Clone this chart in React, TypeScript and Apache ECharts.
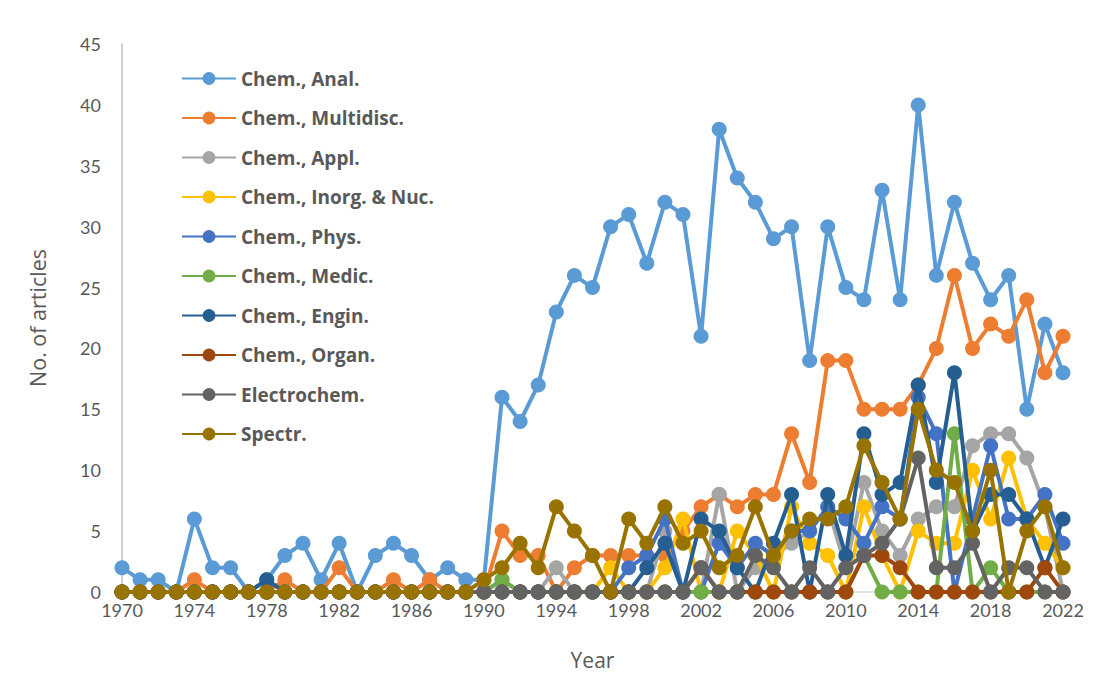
import React, { useEffect, useRef } from "react";
import * as echarts from "echarts";

const years: string[] = [];
for (let y = 1970; y <= 2022; y++) years.push(String(y));

const seriesNames = [
  "Chem., Anal.",
  "Chem., Multidisc.",
  "Chem., Appl.",
  "Chem., Inorg. & Nuc.",
  "Chem., Phys.",
  "Chem., Medic.",
  "Chem., Engin.",
  "Chem., Organ.",
  "Electrochem.",
  "Spectr.",
];

const colors = [
  "#5B9BD5",
  "#ED7D31",
  "#A5A5A5",
  "#FFC000",
  "#4472C4",
  "#70AD47",
  "#255E91",
  "#9E480E",
  "#636363",
  "#997300",
];

const z10 = [0, 0, 0, 0, 0, 0, 0, 0, 0, 0];

const anal = [
  2, 1, 1, 0, 6, 2, 2, 0, 1, 3,
  4, 1, 4, 0, 3, 4, 3, 1, 2, 1,
  1, 16, 14, 17, 23, 26, 25, 30, 31, 27,
  32, 31, 21, 38, 34, 32, 29, 30, 19, 30,
  25, 24, 33, 24, 40, 26, 32, 27, 24, 26,
  15, 22, 18,
];
const multidisc = [
  0, 0, 0, 0, 1, 0, 0, 0, 0, 1,
  0, 0, 2, 0, 0, 1, 0, 1, 0, 0,
  0, 5, 3, 3, 0, 2, 3, 3, 3, 3,
  3, 5, 7, 8, 7, 8, 8, 13, 9, 19,
  19, 15, 15, 15, 17, 20, 26, 20, 22, 21,
  24, 18, 21,
];
const appl = [
  ...z10, ...z10,
  0, 1, 0, 0, 2, 0, 0, 0, 0, 0,
  5, 0, 0, 8, 0, 2, 3, 4, 5, 7,
  2, 9, 5, 3, 6, 7, 7, 12, 13, 13,
  11, 7, 0,
];
const inorg = [
  ...z10, ...z10,
  0, 0, 0, 0, 0, 0, 0, 2, 0, 0,
  2, 6, 0, 0, 5, 3, 0, 7, 4, 3,
  0, 7, 3, 0, 5, 4, 4, 10, 6, 11,
  6, 4, 2,
];
const phys = [
  ...z10, ...z10,
  0, 0, 0, 0, 0, 0, 0, 0, 2, 3,
  6, 0, 0, 4, 2, 4, 3, 5, 5, 7,
  6, 4, 7, 6, 16, 13, 0, 6, 12, 6,
  6, 8, 4,
];
const medic = [
  ...z10, ...z10,
  0, 1, 0, 0, 0, 0, 0, 0, 0, 0,
  0, 0, 0, 0, 0, 0, 0, 0, 0, 0,
  0, 3, 0, 0, 0, 0, 13, 0, 2, 0,
  0, 0, 0,
];
const engin = [
  0, 0, 0, 0, 0, 0, 0, 0, 1, 0,
  ...z10,
  0, 0, 0, 0, 0, 0, 0, 0, 0, 2,
  4, 0, 6, 5, 2, 0, 4, 8, 0, 8,
  3, 13, 8, 9, 17, 9, 18, 5, 8, 8,
  6, 2, 6,
];
const organ = [
  ...z10, ...z10, ...z10,
  0, 0, 2, 0, 0, 0, 0, 0, 0, 0,
  0, 3, 3, 2, 0, 0, 0, 0, 0, 0,
  0, 2, 0,
];
const electrochem = [
  ...z10, ...z10, ...z10,
  0, 0, 2, 0, 0, 3, 2, 0, 2, 0,
  2, 3, 4, 6, 11, 2, 2, 4, 0, 2,
  2, 0, 0,
];
const spectr = [
  ...z10, ...z10,
  1, 2, 4, 2, 7, 5, 3, 0, 6, 4,
  7, 4, 5, 2, 3, 7, 3, 5, 6, 6,
  7, 12, 9, 6, 15, 10, 9, 5, 10, 0,
  5, 7, 2,
];

const allData = [anal, multidisc, appl, inorg, phys, medic, engin, organ, electrochem, spectr];

const FONT = "Lato, 'Open Sans', sans-serif";
const FONT2 = "'Open Sans', sans-serif";

export default function App() {
  const ref = useRef<HTMLDivElement>(null);
  useEffect(() => {
    if (!ref.current) return;
    const chart = echarts.init(ref.current, undefined, { renderer: "svg" });
    chart.setOption({
      animation: false,
      backgroundColor: "#ffffff",
      grid: { left: 122, right: 51, top: 44, bottom: 92, containLabel: false },
      legend: {
        orient: "vertical",
        left: 176,
        top: 64,
        itemWidth: 54,
        itemHeight: 16,
        itemGap: 20.5,
        textStyle: {
          fontFamily: FONT2,
          fontSize: 19,
          lineHeight: 18,
          fontWeight: "bold",
          color: "#595959",
        },
        data: seriesNames,
      },
      xAxis: {
        type: "category",
        data: years,
        boundaryGap: false,
        name: "Year",
        nameLocation: "middle",
        nameGap: 57,
        nameTextStyle: { fontFamily: FONT2, fontSize: 21, color: "#595959" },
        axisLine: { show: true, lineStyle: { color: "#D9D9D9", width: 1.5 } },
        axisTick: { show: false },
        axisLabel: { interval: 3, margin: 9, fontFamily: FONT, fontSize: 18, color: "#595959" },
        splitLine: { show: false },
      },
      yAxis: {
        type: "value",
        min: 0,
        max: 45,
        interval: 5,
        name: "No. of articles",
        nameLocation: "middle",
        nameGap: 74,
        nameRotate: 90,
        nameTextStyle: { fontFamily: FONT2, fontSize: 21.5, color: "#595959" },
        axisLine: { show: true, lineStyle: { color: "#BFBFBF", width: 1.5 } },
        axisTick: { show: false },
        axisLabel: { margin: 21, fontFamily: FONT, fontSize: 18, color: "#595959" },
        splitLine: { show: false },
      },
      series: seriesNames.map((name, i) => ({
        name,
        type: "line",
        data: allData[i],
        symbol: "circle",
        symbolSize: 15,
        showAllSymbol: true,
        color: colors[i],
        lineStyle: { width: 4, color: colors[i] },
        itemStyle: { color: colors[i] },
        z: 2 + i,
      })),
    });
    return () => chart.dispose();
  }, []);
  return (
    <div
      ref={ref}
      style={{ position: "fixed", left: 0, top: 0, width: 1114, height: 684, background: "#fff" }}
    />
  );
}
